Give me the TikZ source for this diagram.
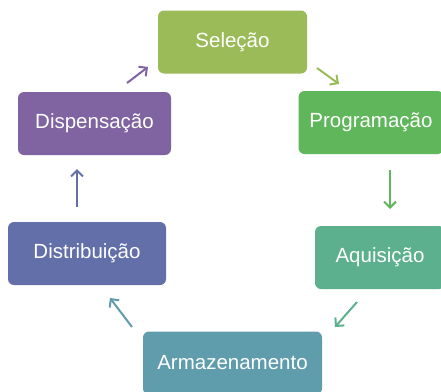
\documentclass[tikz,border=0pt]{standalone}
\usepackage{fontspec}
\setmainfont{Liberation Sans}
\usetikzlibrary{arrows.meta}
\definecolor{cselecao}{HTML}{9BBB59}
\definecolor{cprog}{HTML}{5FB65B}
\definecolor{caquis}{HTML}{5DB08D}
\definecolor{carmaz}{HTML}{5F9CAC}
\definecolor{cdistr}{HTML}{636FA9}
\definecolor{cdispe}{HTML}{8063A1}
\tikzset{
  etapa/.style={rounded corners=6pt, text=white, font=\fontsize{20.5}{24}\selectfont,
    minimum height=63pt, inner sep=0pt},
  seta/.style={line width=2pt, -{Straight Barb[length=6pt,width=12pt,line width=2pt]}}
}
\begin{document}
\begin{tikzpicture}[x=1pt,y=-1pt]
\clip (0,0) rectangle (441,391);
\fill[white] (0,0) rectangle (441,391);
\node[etapa, fill=cselecao, minimum width=149pt] (sel) at (232.5,42) {Seleção};
\node[etapa, fill=cprog, minimum width=145pt] (prog) at (371,122.5) {Programação};
\node[etapa, fill=caquis, minimum width=130pt] (aqui) at (380,257.5) {Aquisição};
\node[etapa, fill=carmaz, minimum width=179pt] (arma) at (232.5,363) {Armazenamento};
\node[etapa, fill=cdistr, minimum width=158pt] (dist) at (87,253.5) {Distribuição};
\node[etapa, fill=cdispe, minimum width=153pt] (disp) at (94.5,123.5) {Dispensação};
% setas do ciclo
\coordinate (a1) at (317,68);  \coordinate (b1) at (339,84);
\coordinate (a2) at (390,170); \coordinate (b2) at (390,209);
\coordinate (a3) at (357,302); \coordinate (b3) at (335,327);
\coordinate (a4) at (132,327); \coordinate (b4) at (110,298);
\coordinate (a5) at (77,207);  \coordinate (b5) at (77,169);
\coordinate (a6) at (127,83);  \coordinate (b6) at (148,67);
\draw[seta, cselecao] (a1) -- (b1);
\draw[seta, cprog] (a2) -- (b2);
\draw[seta, caquis] (a3) -- (b3);
\draw[seta, carmaz] (a4) -- (b4);
\draw[seta, cdistr] (a5) -- (b5);
\draw[seta, cdispe] (a6) -- (b6);
\end{tikzpicture}
\end{document}
